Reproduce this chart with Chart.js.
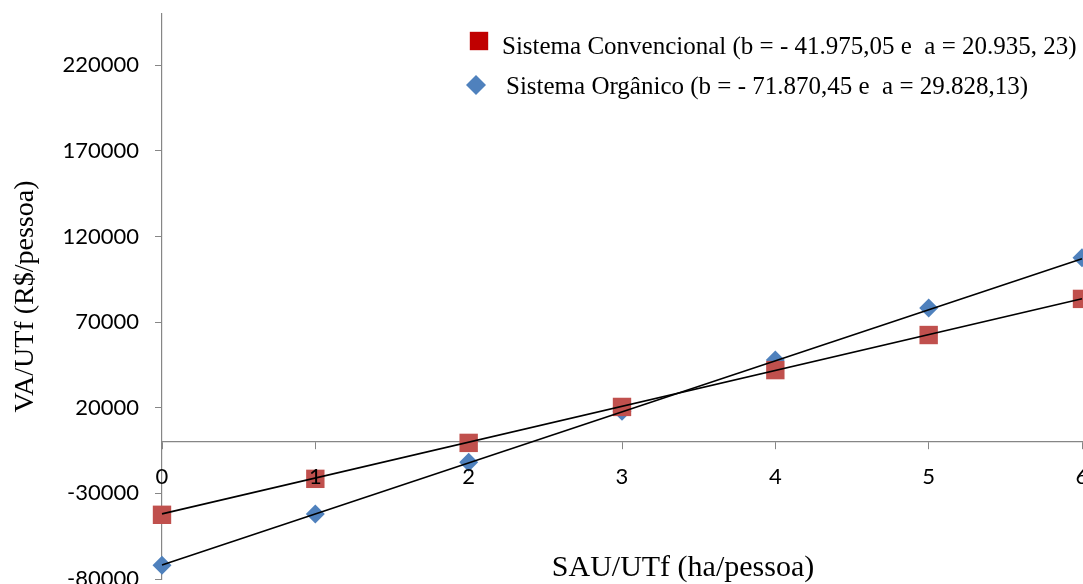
<!DOCTYPE html>
<html>
<head>
<meta charset="utf-8">
<script src="https://cdn.jsdelivr.net/npm/chart.js@4"></script>
<style>
  html, body { margin: 0; padding: 0; background: #fff; overflow: hidden; }
  #wrap { width: 1083px; height: 584px; position: relative; }
</style>
</head>
<body>
<div id="wrap"><canvas id="chart"></canvas></div>
<script>
// values
const xValues = [0, 1, 2, 3, 4, 5, 6];
const convencional = [-42500, -21500, -500, 20500, 42000, 62500, 83600];
const organico = [-71900, -42100, -11800, 18000, 47900, 78300, 107600];

// trend lines, read at both ends (x = 0 and x = 6)
const trendX = [0, 6];
const trendConv = [-41975, 83636];
const trendOrg = [-71870, 107099];

const yTicks = [-80000, -30000, 20000, 70000, 120000, 170000, 220000];
const seriesNames = [
    'Sistema Convencional (b = - 41.975,05 e  a = 20.935, 23)',
    'Sistema Orgânico (b = - 71.870,45 e  a = 29.828,13)'
];
const xTitle = 'SAU/UTf (ha/pessoa)';
const yTitle = 'VA/UTf (R$/pessoa)';

const red = '#C0504D';
const blue = '#4F81BD';
const axisGray = '#868686';
const tickFont = { family: 'Lato', size: 22 };
const serif = '"Liberation Serif", "Times New Roman", serif';

function toPoints(xs, ys) {
    return xs.map((x, i) => ({ x: x, y: ys[i] }));
}

// legend + x title drawn on top, the way the original sits over the plot
const overlayPlugin = {
    id: 'overlay',
    afterDraw(chart) {
        const c = chart.ctx;
        c.save();
        // legend markers
        c.fillStyle = '#C00000';
        Chart.helpers.drawPoint(c, { pointStyle: 'rect', radius: 13, borderWidth: 0 }, 479, 41);
        c.fillStyle = blue;
        Chart.helpers.drawPoint(c, { pointStyle: 'rectRot', radius: 10, borderWidth: 0 }, 476, 85);
        // legend text
        c.fillStyle = '#000';
        c.font = '25px ' + serif;
        c.textAlign = 'left';
        c.textBaseline = 'alphabetic';
        c.fillText(seriesNames[0], 502, 54);
        c.fillText(seriesNames[1], 506, 94);
        // x axis title
        c.font = '30px ' + serif;
        c.textAlign = 'center';
        c.textBaseline = 'middle';
        c.fillText(xTitle, 683, chart.chartArea.bottom - 11);
        c.restore();
    }
};

const ctx = document.getElementById('chart').getContext('2d');
new Chart(ctx, {
    type: 'scatter',
    data: {
        datasets: [
            {
                label: 'trend conv',
                type: 'line',
                data: toPoints(trendX, trendConv),
                borderColor: '#000',
                borderWidth: 1.6,
                pointRadius: 0,
                clip: false,
                order: 0
            },
            {
                label: 'trend org',
                type: 'line',
                data: toPoints(trendX, trendOrg),
                borderColor: '#000',
                borderWidth: 1.6,
                pointRadius: 0,
                clip: false,
                order: 0
            },
            {
                label: seriesNames[0],
                data: toPoints(xValues, convencional),
                pointStyle: 'rect',
                pointRadius: 13,
                pointHoverRadius: 13,
                backgroundColor: red,
                borderColor: red,
                borderWidth: 0,
                clip: false,
                order: 1
            },
            {
                label: seriesNames[1],
                data: toPoints(xValues, organico),
                pointStyle: 'rectRot',
                pointRadius: 9.5,
                pointHoverRadius: 9.5,
                backgroundColor: blue,
                borderColor: blue,
                borderWidth: 0,
                clip: false,
                order: 2
            }
        ]
    },
    options: {
        responsive: true,
        maintainAspectRatio: false,
        animation: false,
        layout: { autoPadding: false, padding: { top: 14, bottom: 5, right: 1, left: 0 } },
        plugins: {
            legend: { display: false },
            tooltip: { enabled: false }
        },
        scales: {
            x: {
                type: 'linear',
                position: { y: 0 },
                min: 0,
                max: 6,
                // z: 1 -> labels sit over the markers, like the original
                ticks: { stepSize: 1, font: tickFont, color: '#000', padding: 15, maxRotation: 0, z: 1 },
                grid: { drawOnChartArea: false, drawTicks: true, tickLength: 7, color: axisGray },
                border: { color: axisGray, width: 1.2 },
                afterFit: (s) => { s.paddingRight = 0; s.paddingLeft = 0; }
            },
            y: {
                type: 'linear',
                min: -80000,
                max: 250000,
                afterBuildTicks: (s) => { s.ticks = yTicks.map(v => ({ value: v })); },
                ticks: { font: tickFont, color: '#000', padding: 16, callback: (v) => String(v) },
                grid: { drawOnChartArea: false, drawTicks: true, tickLength: 7, color: axisGray },
                border: { color: axisGray, width: 1.2 },
                title: {
                    display: true,
                    text: yTitle,
                    color: '#000',
                    font: { family: 'Liberation Serif', size: 28 },
                    padding: { top: 9, bottom: 0 }
                },
                afterFit: (s) => { s.width = 162; s.paddingTop = 0; s.paddingBottom = 0; }
            }
        }
    },
    plugins: [overlayPlugin]
});
</script>
</body>
</html>
